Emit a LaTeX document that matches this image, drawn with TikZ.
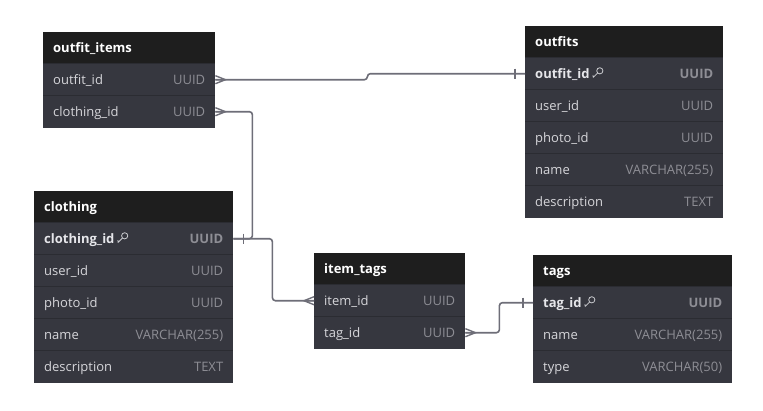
\documentclass[tikz,border=0pt]{standalone}
\usepackage{fontspec}
\setmainfont{Open Sans}
\usetikzlibrary{calc}
\definecolor{hdrc}{HTML}{1E1E1E}
\definecolor{bodyc}{HTML}{36373F}
\definecolor{divc}{HTML}{2B2C32}
\definecolor{namec}{HTML}{D6D6DA}
\definecolor{keyc}{HTML}{E6E6EA}
\definecolor{typec}{HTML}{8E8E95}
\definecolor{connc}{HTML}{6E6E78}
\newcommand{\keyic}{\tikz[x=1pt,y=1pt,baseline=-0.5pt]{\draw[keyc!85!bodyc,line width=0.8pt,line join=round,line cap=round] (7.4,7.4) circle (3.1) (5.2,5.2) -- (0.8,0.8) -- (0.6,2.8);}}
\newcommand{\nm}[1]{\textcolor{namec}{#1}}
\newcommand{\ty}[1]{\textcolor{typec}{#1}}
\newcommand{\knm}[1]{\textcolor{keyc}{\bfseries #1}\hspace{3pt}\keyic}
\newcommand{\kty}[1]{\textcolor{typec}{\bfseries #1}}
\newcommand{\crowR}[1]{\draw[tip] ($(#1)+(0,-4)$) -- ($(#1)+(10,0)$) -- ($(#1)+(0,4)$) (#1) -- ($(#1)+(10,0)$);}
\newcommand{\crowL}[1]{\draw[tip] ($(#1)+(0,-4)$) -- ($(#1)+(-10,0)$) -- ($(#1)+(0,4)$) (#1) -- ($(#1)+(-10,0)$);}
\newcommand{\barat}[2]{\draw[tip] ($(#1)+(#2,-5)$) -- ($(#1)+(#2,5)$);}
\tikzset{
  tblhead/.style={fill=hdrc, anchor=north west, inner xsep=10pt, inner ysep=0pt,
    minimum height=31.5pt, text width=#1, align=left, text height=11pt, text depth=1pt,
    font=\bfseries\fontsize{13}{15}\selectfont, text=white},
  tblrow/.style={fill=bodyc, anchor=north west, inner xsep=10pt, inner ysep=0pt,
    minimum height=32pt, text width=#1, align=left, text height=11pt, text depth=1pt,
    font=\fontsize{13}{15}\selectfont,
    path picture={\draw[divc,line width=1pt] (path picture bounding box.north west) -- (path picture bounding box.north east);}},
  conn/.style={draw=connc, line width=1.6pt, rounded corners=3pt},
  tip/.style={draw=connc, line width=1.4pt},
}
\begin{document}
\begin{tikzpicture}[x=1pt,y=-1pt]
\useasboundingbox[fill=white] (0,0) rectangle (763,410);
% outfit_items
\node[tblhead=152pt] (oih) at (43,32) {outfit\_items};
\node[tblrow=152pt] (oi1) at (43,63.5) {\nm{outfit\_id}\hfill\ty{UUID}};
\node[tblrow=152pt] (oi2) at (43,95.5) {\nm{clothing\_id}\hfill\ty{UUID}};
% outfits
\node[tblhead=178pt] (ofh) at (525,26) {outfits};
\node[tblrow=178pt] (of1) at (525,57.5) {\knm{outfit\_id}\hfill\kty{UUID}};
\node[tblrow=178pt] (of2) at (525,89.5) {\nm{user\_id}\hfill\ty{UUID}};
\node[tblrow=178pt] (of3) at (525,121.5) {\nm{photo\_id}\hfill\ty{UUID}};
\node[tblrow=178pt] (of4) at (525,153.5) {\nm{name}\hfill\ty{VARCHAR(255)}};
\node[tblrow=178pt] (of5) at (525,185.5) {\nm{description}\hfill\ty{TEXT}};
% clothing
\node[tblhead=179pt] (clh) at (34,191) {clothing};
\node[tblrow=179pt] (cl1) at (34,222.5) {\knm{clothing\_id}\hfill\kty{UUID}};
\node[tblrow=179pt] (cl2) at (34,254.5) {\nm{user\_id}\hfill\ty{UUID}};
\node[tblrow=179pt] (cl3) at (34,286.5) {\nm{photo\_id}\hfill\ty{UUID}};
\node[tblrow=179pt] (cl4) at (34,318.5) {\nm{name}\hfill\ty{VARCHAR(255)}};
\node[tblrow=179pt] (cl5) at (34,350.5) {\nm{description}\hfill\ty{TEXT}};
% item_tags
\node[tblhead=131pt] (ith) at (314,253) {item\_tags};
\node[tblrow=131pt] (it1) at (314,284.5) {\nm{item\_id}\hfill\ty{UUID}};
\node[tblrow=131pt] (it2) at (314,316.5) {\nm{tag\_id}\hfill\ty{UUID}};
% tags
\node[tblhead=179pt] (tgh) at (533,255) {tags};
\node[tblrow=179pt] (tg1) at (533,286.5) {\knm{tag\_id}\hfill\kty{UUID}};
\node[tblrow=179pt] (tg2) at (533,318.5) {\nm{name}\hfill\ty{VARCHAR(255)}};
\node[tblrow=179pt] (tg3) at (533,350.5) {\nm{type}\hfill\ty{VARCHAR(50)}};
% connectors
\draw[conn] (oi1.east) -- ($(oi1.east)+(152,0)$) |- (of1.west);
\draw[conn] (oi2.east) -- ($(oi2.east)+(37,0)$) |- (cl1.east);
\draw[conn] (cl1.east) -- ($(cl1.east)+(39,0)$) |- (it1.west);
\draw[conn] (it2.east) -- ($(it2.east)+(34,0)$) |- (tg1.west);
% ends
\crowR{oi1.east}
\crowR{oi2.east}
\crowL{it1.west}
\crowR{it2.east}
\barat{of1.west}{-10}
\barat{cl1.east}{10}
\barat{tg1.west}{-10}
\end{tikzpicture}
\end{document}
